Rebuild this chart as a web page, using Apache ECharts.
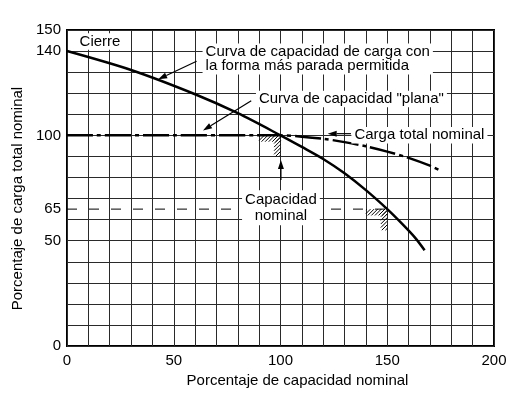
<!DOCTYPE html>
<html><head><meta charset="utf-8">
<script src="https://cdn.jsdelivr.net/npm/echarts@6/dist/echarts.min.js"></script>
<style>html,body{margin:0;padding:0;background:#fff}#c{width:525px;height:393px}</style>
</head><body><div id="c"></div>
<script>
const FONT = '"Liberation Sans", Arial, Helvetica, sans-serif';

// Tick labels
const xTickLabels = [0, 50, 100, 150, 200];
const yTickLabels = [0, 50, 65, 100, 140, 150];

// Curva de capacidad de carga con la forma más parada permitida
const steepX = [0, 30, 60, 80, 100, 110, 120, 130, 140, 150, 157, 163, 167.5];
const steepY = [140, 131, 119.5, 110.5, 100, 94.5, 88.8, 82, 74, 65, 58, 51.5, 45.5];

// Curva de capacidad "plana" / Carga total nominal
const flatX = [0, 50, 90, 100, 110, 120, 130, 140, 150, 160, 170, 174.5];
const flatY = [100, 100, 100, 100, 99.4, 98.4, 96.8, 94.8, 92.3, 89.3, 85.6, 83.5];

// 65 % level (dashed)
const levelX = [0, 150];
const levelY = [65, 65];

// Rated-capacity points (hatched corners)
const ratedX = [100, 150];
const ratedY = [100, 65];

// Annotation texts (anchor in data coords)
const noteTexts = ['Cierre', 'Curva de capacidad de carga con\nla forma más parada permitida', 'Curva de capacidad "plana"', 'Carga total nominal', 'Capacidad\nnominal'];
const noteX = [4.5, 63.5, 88.5, 133.2, 100.2];
const noteY = [144.5, 136.2, 117.2, 100.1, 65.6];

// Arrows: tail -> head (data coords)
const arrowTailX = [60.7, 86.3, 133, 100.2];
const arrowTailY = [135.2, 116.4, 100.8, 78.8];
const arrowHeadX = [42.7, 63.7, 122.1, 100.2];
const arrowHeadY = [126.6, 102.3, 100.8, 88.3];

const zip = (a, b) => a.map((v, i) => [v, b[i]]);

const chart = echarts.init(document.getElementById('c'), null, {renderer: 'canvas'});
const axisText = {color: '#000', fontSize: 15, fontFamily: FONT};

chart.setOption({
  animation: false,
  grid: {left: 67, right: 31, top: 30, bottom: 43, show: true, borderColor: '#000', borderWidth: 2, backgroundColor: 'transparent'},
  xAxis: {
    type: 'value', min: 0, max: 200, interval: 10,
    axisLine: {show: false}, axisTick: {show: false},
    splitLine: {show: true, lineStyle: {color: '#2a2a2a', width: 1}},
    axisLabel: Object.assign({customValues: xTickLabels, margin: 7}, axisText),
    name: 'Porcentaje de capacidad nominal', nameLocation: 'middle', nameGap: 26,
    nameTextStyle: Object.assign({padding: [0, 0, 0, 34]}, axisText)
  },
  yAxis: {
    type: 'value', min: 0, max: 150, interval: 10,
    axisLine: {show: false}, axisTick: {show: false},
    splitLine: {show: true, lineStyle: {color: '#2a2a2a', width: 1}},
    axisLabel: Object.assign({customValues: yTickLabels, margin: 6}, axisText),
    name: 'Porcentaje de carga total nominal', nameLocation: 'middle', nameGap: 37,
    nameTextStyle: Object.assign({padding: [0, 21, 0, 0]}, axisText)
  },
  series: [
    {
      type: 'line', data: zip(levelX, levelY), symbol: 'none', silent: true, z: 2,
      lineStyle: {color: '#000', width: 1, type: [10, 12]}
    },
    {
      type: 'line', data: zip(flatX, flatY), symbol: 'none', silent: true, z: 3,
      smooth: 0.3,
      lineStyle: {color: '#000', width: 2.5, type: [26, 4, 4, 4]}
    },
    {
      type: 'line', data: zip(steepX, steepY), symbol: 'none', silent: true, z: 4,
      smooth: 0.3,
      lineStyle: {color: '#000', width: 2.5}
    },
    {
      type: 'custom', data: zip(ratedX, ratedY), silent: true, z: 2,
      renderItem: function (params, api) {
        const bx = api.value(0), by = api.value(1);
        const rects = [[bx - 10, by - 3, bx, by], [bx - 3, by - 10, bx, by]].map(r => {
          const a = api.coord([r[0], r[1]]), b = api.coord([r[2], r[3]]);
          return [Math.min(a[0], b[0]), Math.min(a[1], b[1]), Math.max(a[0], b[0]), Math.max(a[1], b[1])];
        });
        const step = 3.6, children = [];
        rects.forEach(r => {
          const [x0, y0, x1, y1] = r;
          for (let c = Math.ceil((x0 + y0) / step) * step; c <= x1 + y1; c += step) {
            const xa = Math.max(x0, c - y1), xb = Math.min(x1, c - y0);
            if (xb > xa) children.push({type: 'line', shape: {x1: xa, y1: c - xa, x2: xb, y2: c - xb}, style: {stroke: '#000', lineWidth: 1}});
          }
        });
        return {type: 'group', children: children};
      }
    }
  ]
});

const toPx = (x, y) => chart.convertToPixel({gridIndex: 0}, [x, y]);
const graphics = [];
noteTexts.forEach((t, i) => {
  const p = toPx(noteX[i], noteY[i]);
  const centered = i === 4;
  graphics.push({
    type: 'text', x: p[0], y: p[1], z: 10, silent: true,
    style: {
      text: t, fill: '#000', font: '15px ' + FONT,
      align: centered ? 'center' : 'left', verticalAlign: 'middle',
      lineHeight: centered ? 16.5 : 14.5,
      backgroundColor: '#fff', padding: [1, 3, 1, 3]
    }
  });
});
arrowTailX.forEach((_, i) => {
  const t = toPx(arrowTailX[i], arrowTailY[i]);
  const h = toPx(arrowHeadX[i], arrowHeadY[i]);
  const dx = h[0] - t[0], dy = h[1] - t[1], len = Math.hypot(dx, dy);
  const ux = dx / len, uy = dy / len, L = 9, W = 3;
  const bx = h[0] - ux * L, by = h[1] - uy * L;
  graphics.push({type: 'line', z: 11, silent: true, shape: {x1: t[0], y1: t[1], x2: bx, y2: by}, style: {stroke: '#000', lineWidth: 1.2}});
  graphics.push({type: 'polygon', z: 11, silent: true, shape: {points: [[h[0], h[1]], [bx - uy * W, by + ux * W], [bx + uy * W, by - ux * W]]}, style: {fill: '#000'}});
});
chart.setOption({graphic: graphics});
</script>
</body></html>
